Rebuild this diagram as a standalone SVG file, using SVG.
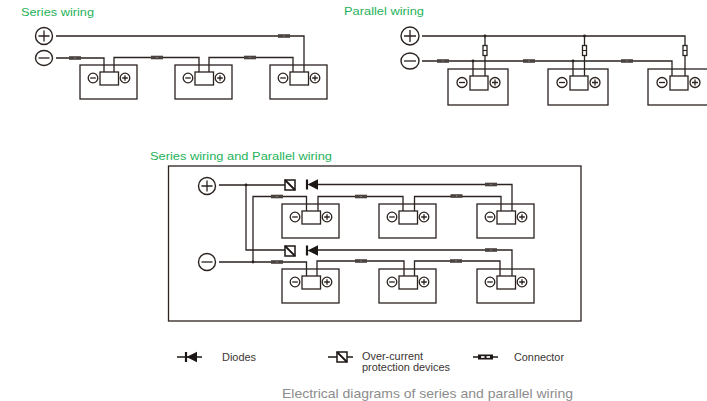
<svg xmlns="http://www.w3.org/2000/svg" width="707" height="401" viewBox="0 0 707 401">
<style>
.w{fill:none;stroke:#2a2320;stroke-width:1.3}
.b{fill:#fff;stroke:#2a2320;stroke-width:1.3}
.t{fill:#fff;stroke:#2a2320;stroke-width:1.4}
.h{font-family:"Liberation Sans",Arial,sans-serif;font-size:11px;fill:#1fb25a}
.l{font-family:"Liberation Sans",Arial,sans-serif;font-size:10px;fill:#3a3532}
.c{font-family:"Liberation Sans",Arial,sans-serif;font-size:13px;fill:#8c8c8c}
</style>
<defs>
<g id="bat"><rect class="b" x="0" y="0" width="57" height="34"/><rect class="b" x="20" y="7" width="18.500" height="13"/><circle class="w" cx="13" cy="13" r="4.800"/><path class="w" d="M10.200 13h5.600"/><circle class="w" cx="45" cy="13" r="4.800"/><path class="w" d="M42.200 13h5.600M45 10.200v5.600"/></g>
<g id="bat2"><rect class="b" x="0" y="0" width="60" height="36"/><rect class="b" x="22" y="7" width="18" height="14"/><circle class="w" cx="14" cy="13.500" r="5"/><path class="w" d="M11 13.500h6"/><circle class="w" cx="47" cy="13.500" r="5"/><path class="w" d="M44 13.500h6M47 10.500v6"/></g>
<g id="con"><rect x="-6" y="-1.800" width="12" height="3.600" fill="#4a4340"/><path d="M-0.500 0h1" stroke="#bbb" stroke-width="0.800"/></g>
<g id="vcon"><rect x="-2" y="-5" width="4" height="10" fill="#fff" stroke="#2a2320" stroke-width="1.300"/><path d="M-2 0h4" stroke="#2a2320"/></g>
<g id="dio"><path d="M0 -5v10" stroke="#1c1715" stroke-width="2.200"/><path d="M0.500 0L11 -5.200V5.200Z" fill="#1c1715"/></g>
<g id="ocp"><rect x="-5" y="-5" width="10" height="10" fill="#fff" stroke="#1c1715" stroke-width="1.500"/><path d="M-5 -5L5 5" stroke="#1c1715" stroke-width="1.800"/></g>
<g id="dot"><circle r="1.400" fill="#2a2320"/></g>
</defs>

<text class="h" x="21" y="16" textLength="73" lengthAdjust="spacingAndGlyphs">Series wiring</text>
<text class="h" x="344" y="15" textLength="80" lengthAdjust="spacingAndGlyphs">Parallel wiring</text>
<text class="h" x="150" y="160" textLength="182" lengthAdjust="spacingAndGlyphs">Series wiring and Parallel wiring</text>

<g id="series-batteries"><use href="#bat" x="80" y="65"/><use href="#bat" x="175" y="65"/><use href="#bat" x="270" y="65"/></g>
<g id="parallel-batteries"><use href="#bat2" x="448" y="69"/><use href="#bat2" x="548" y="69"/><use href="#bat2" x="648" y="69"/></g>
<g id="mixed-batteries"><use href="#bat" x="282" y="204"/><use href="#bat" x="379" y="204"/><use href="#bat" x="477" y="204"/><use href="#bat" x="282" y="269"/><use href="#bat" x="379" y="269"/><use href="#bat" x="477" y="269"/></g>

<g id="connectors">
<path class="w" d="M56 36H304V72M56 58H104V72M114 72V57.500H199V72M209 72V57.500H293V72"/>
<path class="w" d="M422 36H685V76M485 36V76M584.500 36V76M422 61H672V76M473 61V76M573 61V76"/>
<path class="w" d="M219 185H285M318 184.500H512V211M246 185V250H285M318 250H512V276"/>
<path class="w" d="M219 262H306.500V276M253 262V196.500H306.500V211M318 211V196.500H403V211M414.500 211V196.500H501V211M317 276V261H404V276M414.500 276V261H500V276"/>
</g>

<g id="connector-devices">
<use href="#con" x="284" y="36"/><use href="#con" x="75" y="58"/><use href="#con" x="157" y="57.500"/><use href="#con" x="250" y="57.500"/>
<use href="#con" x="443" y="61"/><use href="#con" x="529" y="61"/><use href="#con" x="627" y="61"/>
<use href="#vcon" x="485" y="50.500"/><use href="#vcon" x="584.500" y="50.500"/><use href="#vcon" x="685" y="50.500"/>
<use href="#dot" x="485" y="36"/><use href="#dot" x="584.500" y="36"/><use href="#dot" x="473" y="61"/><use href="#dot" x="573" y="61"/>
<use href="#con" x="277" y="196.500"/><use href="#con" x="361" y="196.500"/><use href="#con" x="456.500" y="196"/><use href="#con" x="491" y="184.500"/>
<use href="#con" x="277" y="262"/><use href="#con" x="361" y="261"/><use href="#con" x="456" y="261"/><use href="#con" x="491" y="250"/>
<use href="#dot" x="246" y="185"/><use href="#dot" x="253" y="262"/>
<use href="#ocp" x="290" y="185"/><use href="#dio" x="307" y="184.500"/>
<use href="#ocp" x="290" y="251"/><use href="#dio" x="307" y="250.500"/>
</g>

<g id="terminals">
<circle class="t" cx="44" cy="36" r="8.500"/><path class="w" d="M38.500 36h11M44 30.500v11"/>
<ellipse class="t" cx="44" cy="58" rx="8.500" ry="7.500"/><path class="w" d="M38.500 58h11"/>
<circle class="t" cx="410" cy="36" r="9"/><path class="w" d="M404 36h12M410 30v12"/>
<ellipse class="t" cx="410" cy="61" rx="9" ry="8"/><path class="w" d="M404 61h12"/>
<circle class="t" cx="207" cy="186" r="8.500"/><path class="w" d="M201.500 186h11M207 180.500v11"/>
<circle class="t" cx="207" cy="262" r="8.500"/><path class="w" d="M201.500 262h11"/>
</g>

<rect id="frame" x="168.500" y="166" width="412.500" height="155" fill="none" stroke="#2a2320" stroke-width="1.300"/>

<g id="legend">
<path d="M177 357H202" stroke="#1c1715" stroke-width="1.500"/><use href="#dio" x="186" y="357"/>
<text class="l" x="222" y="361" textLength="34" lengthAdjust="spacingAndGlyphs">Diodes</text>
<path d="M328 357H353" stroke="#1c1715" stroke-width="1.500"/><use href="#ocp" x="342" y="357"/>
<text class="l" x="362" y="360" textLength="61" lengthAdjust="spacingAndGlyphs">Over-current</text><text class="l" x="362" y="371" textLength="88" lengthAdjust="spacingAndGlyphs">protection devices</text>
<path d="M473 357H498" stroke="#1c1715" stroke-width="1.500"/><rect x="478" y="354.500" width="15" height="5" fill="#1c1715"/><rect x="481" y="356" width="3.500" height="2" fill="#ddd"/><rect x="486.500" y="356" width="3.500" height="2" fill="#ddd"/>
<text class="l" x="514" y="361" textLength="50" lengthAdjust="spacingAndGlyphs">Connector</text>
</g>

<text class="c" x="282" y="398" textLength="291" lengthAdjust="spacingAndGlyphs">Electrical diagrams of series and parallel wiring</text>
</svg>
